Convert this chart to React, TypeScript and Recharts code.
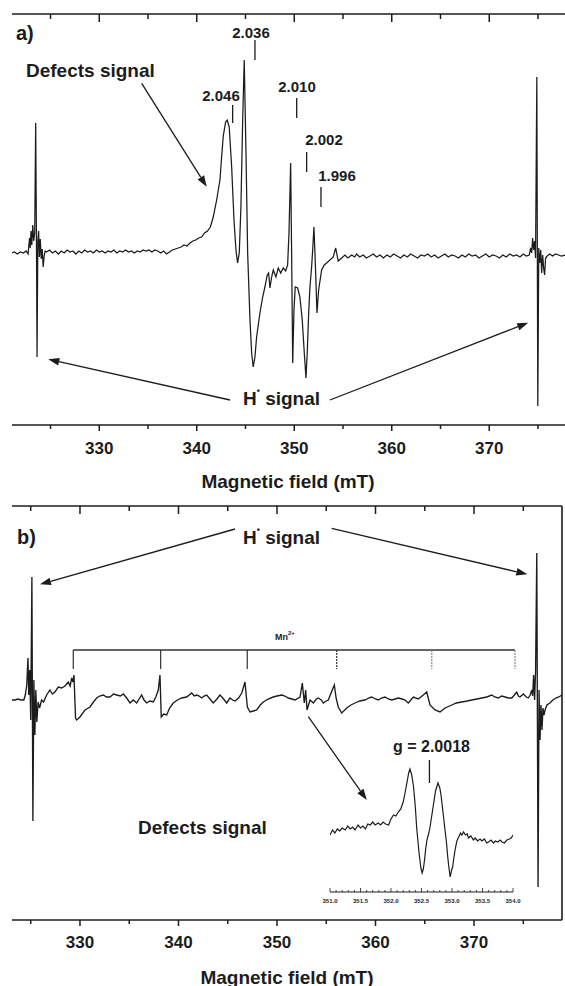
import React from 'react';
import { LineChart, Line, XAxis, YAxis, ReferenceLine } from 'recharts';

const FONT = '"Liberation Sans", Arial, Helvetica, sans-serif';
const INK = '#1c1c1c';

// ---------- Panel a: EPR spectrum (field in mT, signal in arbitrary units) ----------
const fieldA = [
  321.05, 321.3, 321.6, 321.9, 322.2, 322.5, 322.7, 322.85, 322.92, 323.0, 323.08, 323.18, 323.28, 323.38,
  323.48, 323.56, 323.62, 323.7, 323.78, 323.86, 323.95, 324.05, 324.15, 324.25, 324.35, 324.45, 324.6,
  324.9, 325.2, 325.5, 325.8, 326.1, 326.4, 326.7, 327.0, 327.3, 327.6, 327.9, 328.2, 328.5, 328.8, 329.1,
  329.4, 329.7, 330.0, 330.3, 330.6, 330.9, 331.2, 331.5, 331.8, 332.1, 332.4, 332.7, 333.0, 333.3, 333.6,
  333.9, 334.2, 334.5, 334.8, 335.1, 335.4, 335.7, 336.0, 336.3, 336.6, 336.9, 337.2, 337.5, 337.8, 338.1,
  338.4, 338.7, 339.0, 339.3, 339.6, 339.9, 340.2, 340.5, 340.8, 341.1, 341.4, 341.69, 342.04, 342.38,
  342.55, 342.72, 342.96, 343.13, 343.33, 343.58, 343.82, 344.02, 344.19, 344.36, 344.53, 344.71, 344.87,
  345.05, 345.22, 345.46, 345.63, 345.79, 345.97, 346.14, 346.48, 346.76, 346.99, 347.23, 347.37, 347.51,
  347.68, 347.85, 348.12, 348.36, 348.61, 348.87, 349.12, 349.32, 349.46, 349.63, 349.73, 349.84, 349.97,
  350.1, 350.35, 350.58, 350.82, 351.03, 351.2, 351.33, 351.48, 351.61, 351.78, 351.89, 352.02, 352.15,
  352.33, 352.5, 352.81, 353.08, 353.32, 353.66, 354.0, 354.25, 354.51, 354.86, 355.2, 355.5, 355.89,
  356.2, 356.4, 356.7, 357.08, 357.4, 357.76, 358.1, 358.45, 358.8, 359.15, 359.5, 359.85, 360.2, 360.55,
  360.9, 361.25, 361.6, 361.95, 362.3, 362.65, 363.0, 363.35, 363.7, 364.05, 364.4, 364.75, 365.1, 365.45,
  365.8, 366.15, 366.5, 366.85, 367.2, 367.55, 367.9, 368.25, 368.6, 368.95, 369.3, 369.65, 370.0, 370.35,
  370.7, 371.05, 371.4, 371.75, 372.1, 372.45, 372.8, 373.15, 373.5, 373.8, 374.1, 374.25, 374.35, 374.45,
  374.55, 374.65, 374.75, 374.88, 374.98, 375.08, 375.18, 375.28, 375.38, 375.48, 375.58, 375.68, 375.78,
  375.95, 376.2, 376.5, 376.8, 377.1, 377.4, 377.77,
];
const signalA = [
  0, 1, -1, 1, 0, 2, -1, 15, 5, 22, 8, 28, 12, 20,
  130, 10, -104, 12, 22, -4, 14, -6, 4, -14, -3, 2, 1,
  3, 0, 2, -1, 2, 0, 3, 1, 2, -1, 2, 0, 3, 1, 2,
  0, 3, 1, 2, 0, 2, 1, 3, 0, 2, 1, 3, 1, 2, 0,
  2, 1, 3, 2, 3, 1, 3, 2, 0, 2, -1, 1, 3, 4, 5,
  6, 8, 7, 10, 12, 13, 15, 16, 20, 22, 26, 36, 53, 73,
  96, 117, 131, 133, 126, 86, 33, 3, -10, 0, 46, 133, 193,
  100, 0, -67, -100, -114, -104, -84, -60, -44, -34, -22, -20, -35,
  -24, -17, -24, -15, -20, -15, -18, -12, 20, 90, 0, -110, -57,
  -34, -35, -44, -67, -100, -125, -100, -60, -34, -14, 3, 26, -7,
  -60, -37, -17, -12, -10, -7, -4, 5, -8, -5, -2, -5, -2,
  -4, -1, -4, -2, -5, -3, -1, -4, -2, -5, -2, -4, -1, -3,
  -5, -2, -4, -1, -3, -5, -2, -3, -1, -4, -2, -5, -3, -1,
  -4, -2, -3, -5, -2, -4, -1, -3, -2, -5, -3, -1, -4, -2,
  -3, -5, -2, -4, -1, -3, -2, -4, -1, -3, -2, 5, 0, 15,
  3, 12, -5, 176, -153, 5, -10, 3, -20, -2, -15, -22, -5,
  -3, -1, -3, -1, -2, -3, -2,
];

// ---------- Panel b: EPR spectrum ----------
const fieldB = [
  323.1, 323.4, 323.7, 324.0, 324.3, 324.45, 324.6, 324.72, 324.8, 324.9, 325.0, 325.12, 325.22, 325.32,
  325.42, 325.52, 325.62, 325.75, 325.9, 326.1, 326.3, 326.62, 326.95, 327.2, 327.46, 327.8, 328.14,
  328.48, 328.81, 329.0, 329.16, 329.28, 329.39, 329.55, 329.66, 330.0, 330.51, 331.02, 331.36, 331.7,
  332.0, 332.37, 332.7, 333.05, 333.4, 333.73, 334.1, 334.4, 334.74, 335.08, 335.41, 335.76, 336.0, 336.26,
  336.5, 336.77, 337.1, 337.44, 337.7, 337.95, 338.12, 338.25, 338.5, 338.8, 339.1, 339.47, 339.9, 340.32,
  340.83, 341.34, 341.6, 341.85, 342.1, 342.36, 342.6, 342.86, 343.2, 343.53, 343.9, 344.21, 344.5, 344.89,
  345.23, 345.5, 345.74, 346.1, 346.42, 346.75, 346.99, 347.26, 347.6, 347.94, 348.3, 348.61, 349.1,
  349.62, 350.0, 350.48, 350.8, 351.15, 351.5, 351.83, 352.34, 352.57, 352.77, 352.91, 353.05, 353.35,
  353.69, 354.0, 354.19, 354.5, 354.7, 355.0, 355.21, 355.61, 355.82, 356.0, 356.22, 356.57, 357.08,
  357.5, 357.92, 358.4, 358.93, 359.3, 359.61, 360.0, 360.28, 360.6, 360.96, 361.3, 361.64, 362.0,
  362.31, 362.7, 362.99, 363.33, 363.84, 364.34, 364.85, 365.2, 365.53, 366.04, 366.55, 367.06, 367.74,
  368.2, 368.75, 369.3, 369.77, 370.3, 370.78, 371.3, 371.8, 372.1, 372.47, 372.8, 373.15, 373.5, 373.83,
  374.1, 374.34, 374.5, 374.67, 375.01, 375.3, 375.51, 375.7, 375.86, 375.95, 376.05, 376.15, 376.25,
  376.37, 376.5, 376.6, 376.7, 376.8, 376.9, 377.0, 377.1, 377.21, 377.4, 377.7, 378.0, 378.3, 378.6,
  378.93,
];
const signalB = [
  0, 0, 1, 0, 0, 5, 15, 42, 5, 30, -20, 123, -121, 20,
  -35, 10, -22, -2, -8, 0, -2, 5, 10, 6, 8, 13, 12,
  14, 18, 14, 22, 18, 25, -18, -20, -17, -10, -7, -2, 2,
  4, 5, 3, 3, 6, 5, 4, 6, 2, -3, 0, -3, 1, 5,
  0, -3, -1, -2, 3, 10, 25, -17, -14, -15, -8, -3, 0, 2,
  3, 7, 4, 5, 4, 2, 4, 5, 1, -3, 1, 5, 2, -3,
  2, 0, -1, 2, 7, 18, -7, -12, -11, -10, -5, -2, 1,
  3, 4, 5, 4, 2, 1, 0, 3, 17, -3, 10, -10, 0,
  -3, 1, 2, 0, -3, -1, 0, 10, 15, 2, -7, -13, -8,
  -5, -3, -1, 0, 2, 3, 1, 0, 2, 3, 1, 0, 1,
  2, 1, 0, -3, 3, 1, 5, 8, -5, -10, -12, -8, -5,
  -3, -2, -1, 0, 1, 2, 3, 5, 3, 2, 4, 3, 2, 2,
  5, 8, 4, 3, 6, 3, 2, 5, 10, 4, 25, 0, 30,
  147, -187, 10, -40, -5, -30, -8, -15, -10, -5, -3, 0, 2, 3,
  5,
];

// ---------- Inset (panel b): defect signal, g = 2.0018 ----------
const fieldInset = [
  351.0, 351.04, 351.08, 351.12, 351.16, 351.2, 351.25, 351.29, 351.33, 351.37, 351.41, 351.46, 351.5,
  351.54, 351.58, 351.62, 351.66, 351.7, 351.74, 351.79, 351.83, 351.87, 351.91, 351.96, 352.0, 352.04,
  352.08, 352.12, 352.16, 352.2, 352.23, 352.26, 352.29, 352.31, 352.34, 352.37, 352.4, 352.42, 352.46,
  352.49, 352.51, 352.53, 352.55, 352.57, 352.59, 352.62, 352.64, 352.67, 352.7, 352.73, 352.77, 352.8,
  352.82, 352.85, 352.88, 352.91, 352.93, 352.95, 352.97, 352.99, 353.01, 353.03, 353.05, 353.08, 353.11,
  353.14, 353.16, 353.19, 353.22, 353.25, 353.27, 353.31, 353.35, 353.38, 353.42, 353.46, 353.49, 353.53,
  353.57, 353.6, 353.64, 353.68, 353.71, 353.75, 353.79, 353.82, 353.86, 353.9, 353.94, 353.97, 354.0,
];
const signalInset = [
  -2, 3, 0, 4, 2, 5, 3, 7, 4, 6, 3, 8, 5,
  7, 4, 9, 8, 11, 8, 10, 8, 11, 9, 8, 14, 18,
  17, 21, 24, 31, 40, 50, 60, 64, 58, 46, 25, 6, -20,
  -35, -40, -36, -27, -15, -7, 0, 6, 18, 30, 42, 50, 45,
  38, 22, 6, -10, -24, -35, -44, -38, -34, -25, -17, -8, -4,
  0, -2, 1, -2, -1, -5, -3, -7, -5, -8, -6, -8, -6,
  -10, -9, -7, -10, -8, -9, -7, -9, -10, -7, -6, -5, -2,
];

// ---------- Axis ticks and labels ----------
const mainTicks = [325, 330, 335, 340, 345, 350, 355, 360, 365, 370, 375];
const majorTicks = [330, 340, 350, 360, 370];
const insetTicks = [
  351.0, 351.1, 351.2, 351.3, 351.4, 351.5, 351.6, 351.7, 351.8, 351.9, 352.0, 352.1, 352.2, 352.3, 352.4,
  352.5, 352.6, 352.7, 352.8, 352.9, 353.0, 353.1, 353.2, 353.3, 353.4, 353.5, 353.6, 353.7, 353.8, 353.9,
  354.0,
];
const insetLabelTicks = [351.0, 351.5, 352.0, 352.5, 353.0, 353.5, 354.0];
const gValuesA = ['2.046', '2.036', '2.010', '2.002', '1.996'];
const gMarkFieldsA = [343.68, 345.97, 350.25, 351.27, 352.74];
const mnFieldsB = [329.32, 338.19, 346.98, 356.06, 365.71, 374.16];

const dataA = fieldA.map((f, i) => ({ f, v: signalA[i] }));
const dataB = fieldB.map((f, i) => ({ f, v: signalB[i] }));
const dataInset = fieldInset.map((f, i) => ({ f, v: signalInset[i] }));

const DOM_A: [number, number] = [321.05, 377.77];
const DOM_B: [number, number] = [323.1, 378.93];
const Y_A: [number, number] = [-172, 239];
const Y_B: [number, number] = [-220, 194];

const ArrowShape = (props: any) => {
  const { x1, y1, x2, y2 } = props;
  if ([x1, y1, x2, y2].some((v) => typeof v !== 'number' || isNaN(v))) return <g />;
  const a = Math.atan2(y2 - y1, x2 - x1);
  const L = 11;
  const W = 3.8;
  const bx = x2 - L * Math.cos(a);
  const by = y2 - L * Math.sin(a);
  const px = -Math.sin(a);
  const py = Math.cos(a);
  return (
    <g>
      <line x1={x1} y1={y1} x2={bx} y2={by} stroke={INK} strokeWidth={1.3} />
      <polygon points={`${x2},${y2} ${bx + W * px},${by + W * py} ${bx - W * px},${by - W * py}`} fill={INK} />
    </g>
  );
};

function makeMainTick(top: number, bottom: number, labelY: number) {
  return (props: any) => {
    const { x, payload } = props;
    const v = payload?.value;
    const major = majorTicks.includes(v);
    return (
      <g>
        <line x1={x} x2={x} y1={bottom} y2={bottom + (major ? 6 : 4)} stroke={INK} strokeWidth={1.5} />
        <line x1={x} x2={x} y1={top} y2={top + (major ? 8 : 5)} stroke={INK} strokeWidth={1.5} />
        {major && (
          <text x={x} y={labelY} textAnchor="middle" dominantBaseline="central" fontFamily={FONT}
            fontWeight="bold" fontSize={17} fill={INK}>{v}</text>
        )}
      </g>
    );
  };
}

const InsetTick = (props: any) => {
  const { x, payload } = props;
  const v = payload?.value;
  const labelled = insetLabelTicks.some((t) => Math.abs(t - v) < 1e-6);
  const axisY = 142;
  return (
    <g>
      <line x1={x} x2={x} y1={axisY} y2={axisY - (labelled ? 4 : 2)} stroke={INK} strokeWidth={0.8} />
      {labelled && (
        <text x={x} y={axisY + 9} textAnchor="middle" dominantBaseline="central" fontFamily={FONT}
          fontWeight="bold" fontSize={6} fill={INK}>{v.toFixed(1)}</text>
      )}
    </g>
  );
};

const seg = (x1: number, y1: number, x2: number, y2: number) => [{ x: x1, y: y1 }, { x: x2, y: y2 }] as any;

function PanelA() {
  return (
    <LineChart width={565} height={495} data={dataA} margin={{ top: 14, right: 0, left: 12, bottom: 30 }}>
      <XAxis dataKey="f" type="number" domain={DOM_A} allowDataOverflow ticks={mainTicks} interval={0}
        height={40} tickLine={false} axisLine={{ stroke: INK, strokeWidth: 1.6 }} tick={makeMainTick(14, 425, 448)} />
      <YAxis type="number" domain={Y_A} allowDataOverflow width={0} tick={false} tickLine={false}
        axisLine={{ stroke: INK, strokeWidth: 1.6 }} />
      <ReferenceLine y={Y_A[1]} stroke={INK} strokeWidth={1.6} ifOverflow="visible" />
      <Line type="linear" dataKey="v" stroke={INK} strokeWidth={1.25} dot={false} isAnimationActive={false} />
      {gMarkFieldsA.map((f, i) => {
        const spans = [[148, 130], [213, 193], [155, 135], [101, 81], [66, 46]];
        return <ReferenceLine key={i} segment={seg(f, spans[i][0], f, spans[i][1])} stroke={INK} strokeWidth={1.3} ifOverflow="visible" />;
      })}
      <ReferenceLine segment={seg(334.35, 169.7, 341.02, 66.3)} shape={ArrowShape} ifOverflow="visible" />
      <ReferenceLine segment={seg(343.41, -147, 324.77, -106.3)} shape={ArrowShape} ifOverflow="visible" />
      <ReferenceLine segment={seg(353.66, -147, 374.0, -69.7)} shape={ArrowShape} ifOverflow="visible" />
    </LineChart>
  );
}

function PanelB() {
  return (
    <LineChart width={565} height={491} data={dataB} margin={{ top: 11, right: 3, left: 12, bottom: 26 }}>
      <XAxis dataKey="f" type="number" domain={DOM_B} allowDataOverflow ticks={mainTicks} interval={0}
        height={40} tickLine={false} axisLine={{ stroke: INK, strokeWidth: 1.6 }} tick={makeMainTick(11, 425, 447)} />
      <YAxis type="number" domain={Y_B} allowDataOverflow width={0} tick={false} tickLine={false}
        axisLine={{ stroke: INK, strokeWidth: 1.6 }} />
      <ReferenceLine y={Y_B[1]} stroke={INK} strokeWidth={1.6} ifOverflow="visible" />
      <ReferenceLine x={DOM_B[1]} stroke={INK} strokeWidth={1.6} ifOverflow="visible" />
      <Line type="linear" dataKey="v" stroke={INK} strokeWidth={1.35} dot={false} isAnimationActive={false} />
      <ReferenceLine segment={seg(mnFieldsB[0], 50, mnFieldsB[5], 50)} stroke="#333" strokeWidth={1.3} ifOverflow="visible" />
      {mnFieldsB.map((f, i) => (
        <ReferenceLine key={i} segment={seg(f, 50, f, 31)} stroke={i >= 4 ? '#8a8a8a' : '#333'}
          strokeWidth={1.2} strokeDasharray={i >= 3 ? '2 1' : undefined} ifOverflow="visible" />
      ))}
      <ReferenceLine segment={seg(345.74, 171, 325.94, 115.7)} shape={ArrowShape} ifOverflow="visible" />
      <ReferenceLine segment={seg(355.55, 171.7, 375.41, 125.7)} shape={ArrowShape} ifOverflow="visible" />
      <ReferenceLine segment={seg(353.18, -16.7, 359.11, -100)} shape={ArrowShape} ifOverflow="visible" />
    </LineChart>
  );
}

function Inset() {
  return (
    <LineChart width={240} height={170} data={dataInset} margin={{ top: 10, right: 27, left: 30, bottom: 8 }}>
      <XAxis dataKey="f" type="number" domain={[351, 354]} allowDataOverflow ticks={insetTicks} interval={0}
        height={20} tickLine={false} axisLine={{ stroke: INK, strokeWidth: 1 }} tick={InsetTick} />
      <YAxis type="number" domain={[-59, 73]} allowDataOverflow hide />
      <Line type="linear" dataKey="v" stroke={INK} strokeWidth={1.2} dot={false} isAnimationActive={false} />
      <ReferenceLine segment={seg(352.63, 73, 352.63, 50)} stroke={INK} strokeWidth={1.3} ifOverflow="visible" />
    </LineChart>
  );
}

const T = (p: { x: number; y: number; size: number; anchor?: string; children: React.ReactNode }) => (
  <text x={p.x} y={p.y} fontSize={p.size} textAnchor={(p.anchor as any) || 'start'} dominantBaseline="central"
    fontFamily={FONT} fontWeight="bold" fill={INK}>{p.children}</text>
);

function Labels() {
  const gPos = [[221, 95], [251, 32], [297, 86], [324, 139], [337, 175]];
  return (
    <svg width={565} height={986} style={{ position: 'absolute', left: 0, top: 0, pointerEvents: 'none' }}>
      <T x={16} y={33} size={20}>a)</T>
      <T x={26} y={70} size={19}>Defects signal</T>
      {gValuesA.map((g, i) => (
        <T key={g} x={gPos[i][0]} y={gPos[i][1]} size={15} anchor="middle">{g}</T>
      ))}
      <text x={243} y={398} fontSize={19} dominantBaseline="central" fontFamily={FONT} fontWeight="bold" fill={INK}>
        H<tspan dy={-7} fontSize={9}>•</tspan><tspan dy={7}> signal</tspan>
      </text>
      <T x={288} y={481} size={19} anchor="middle">Magnetic field (mT)</T>

      <T x={17} y={537} size={20}>b)</T>
      <text x={243} y={537} fontSize={19} dominantBaseline="central" fontFamily={FONT} fontWeight="bold" fill={INK}>
        H<tspan dy={-7} fontSize={9}>•</tspan><tspan dy={7}> signal</tspan>
      </text>
      <text x={275} y={637} fontSize={9} dominantBaseline="central" fontFamily={FONT} fontWeight="bold" fill={INK}>
        Mn<tspan dy={-4} fontSize={6}>2+</tspan>
      </text>
      <T x={138} y={827} size={19}>Defects signal</T>
      <T x={393} y={746} size={16}>g = 2.0018</T>
      <T x={287} y={977} size={19} anchor="middle">Magnetic field (mT)</T>
    </svg>
  );
}

export default function App() {
  return (
    <div style={{ position: 'absolute', left: 0, top: 0, width: 565, height: 986, background: '#fff', overflow: 'hidden' }}>
      <div style={{ position: 'absolute', left: 0, top: 0 }}>
        <PanelA />
      </div>
      <div style={{ position: 'absolute', left: 0, top: 495 }}>
        <PanelB />
      </div>
      <div style={{ position: 'absolute', left: 300, top: 750 }}>
        <Inset />
      </div>
      <Labels />
    </div>
  );
}
